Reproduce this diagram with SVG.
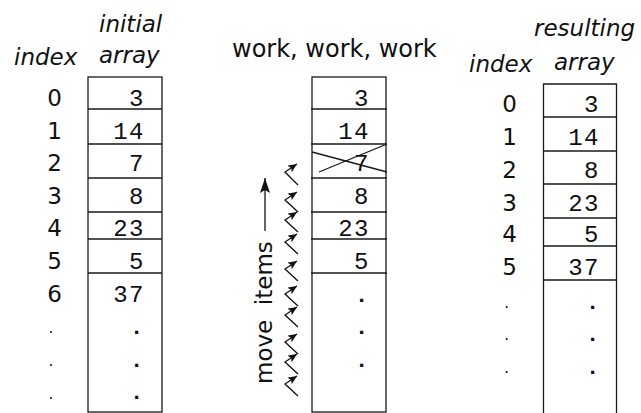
<svg xmlns="http://www.w3.org/2000/svg" width="641" height="413" viewBox="0 0 641 413">
  <style>
    .bg { fill: #ffffff; }
    .cell { fill: none; stroke: #1a1a1a; stroke-width: 1.3; }
    .lbl { font-family: "DejaVu Sans", sans-serif; font-size: 23px; font-style: italic; fill: #111; }
    .idx { font-family: "DejaVu Sans", sans-serif; font-size: 23px; fill: #111; text-anchor: middle; }
    .idot { font-family: "DejaVu Sans", sans-serif; font-size: 15px; fill: #111; text-anchor: middle; }
    .val { font-family: "Liberation Mono", monospace; font-size: 24px; letter-spacing: 1.5px; fill: #111; text-anchor: end; }
    .vdot { font-family: "Liberation Mono", monospace; font-size: 22px; font-weight: bold; fill: #111; text-anchor: middle; }
    .title { font-family: "DejaVu Sans", sans-serif; font-size: 24px; fill: #111; }
    .edge { fill: none; stroke: #111; stroke-width: 1.3; }
  </style>
  <defs>
    <marker id="head" markerUnits="userSpaceOnUse" markerWidth="12" markerHeight="10" refX="9" refY="4" orient="auto">
      <path d="M0,0 L9,4 L0,8 L2,4 Z" fill="#111"/>
    </marker>
    <marker id="bighead" markerUnits="userSpaceOnUse" markerWidth="18" markerHeight="12" refX="15" refY="5" orient="auto">
      <path d="M0,0 L15,5 L0,10 L3,5 Z" fill="#111"/>
    </marker>
  </defs>

  <rect class="bg" x="0" y="0" width="641" height="413"/>

  <!-- left column: index and initial array -->
  <g id="initial-array">
    <text class="lbl" x="14" y="65">index</text>
    <text class="lbl" x="99" y="32">initial</text>
    <text class="lbl" x="99" y="63">array</text>
    <rect class="cell" x="88" y="77" width="74" height="335"/>
    <path class="cell" d="M88,109 H162 M88,144 H162 M88,178 H162 M88,212 H162 M88,239 H162 M88,273 H162"/>
    <g>
      <text class="idx" x="54.5" y="106">0</text>
      <text class="idx" x="54.5" y="138.5">1</text>
      <text class="idx" x="54.5" y="171">2</text>
      <text class="idx" x="54.5" y="203.5">3</text>
      <text class="idx" x="54.5" y="236">4</text>
      <text class="idx" x="54.5" y="268.5">5</text>
      <text class="idx" x="54.5" y="301.5">6</text>
      <text class="idot" x="51" y="333">.</text>
      <text class="idot" x="51" y="366">.</text>
      <text class="idot" x="51" y="398.5">.</text>
    </g>
    <g>
      <text class="val" x="145" y="106">3</text>
      <text class="val" x="145" y="138.5">14</text>
      <text class="val" x="145" y="171">7</text>
      <text class="val" x="145" y="203.5">8</text>
      <text class="val" x="145" y="236">23</text>
      <text class="val" x="145" y="268.5">5</text>
      <text class="val" x="145" y="301.5">37</text>
      <text class="vdot" x="136.7" y="334">.</text>
      <text class="vdot" x="136.7" y="367">.</text>
      <text class="vdot" x="136.7" y="399">.</text>
    </g>
  </g>

  <!-- middle column: array while items are being shifted -->
  <g id="working-array">
    <text class="title" x="232" y="57">work, work, work</text>
    <rect class="cell" x="312" y="77" width="74" height="335"/>
    <path class="cell" d="M311,109 H387 M311,144 H387 M311,178 H387 M311,212 H387 M311,239 H387 M311,273 H387"/>
    <text class="val" x="370" y="106">3</text>
    <text class="val" x="370" y="138.5">14</text>
    <text class="val" x="370" y="171">7</text>
    <text class="val" x="370" y="203.5">8</text>
    <text class="val" x="370" y="236">23</text>
    <text class="val" x="370" y="268.5">5</text>
    <text class="vdot" x="361.7" y="302">.</text>
    <text class="vdot" x="361.7" y="334">.</text>
    <text class="vdot" x="361.7" y="367">.</text>
    <!-- removed item crossed out -->
    <path class="cell" d="M312,152 L387,172 M319,172 L387,144"/>
  </g>

  <!-- right column: index and resulting array -->
  <g id="resulting-array">
    <text class="lbl" x="469" y="72">index</text>
    <text class="lbl" x="534" y="36">resulting</text>
    <text class="lbl" x="554" y="70">array</text>
    <path class="cell" d="M543.5,413 V84 H616.5 V413"/>
    <path class="cell" d="M543.5,117 H616.5 M543.5,151 H616.5 M543.5,184 H616.5 M543.5,218 H616.5 M543.5,246 H616.5 M543.5,280 H616.5"/>
    <g>
      <text class="idx" x="509.5" y="111.7">0</text>
      <text class="idx" x="509.5" y="145">1</text>
      <text class="idx" x="509.5" y="178.3">2</text>
      <text class="idx" x="509.5" y="210.5">3</text>
      <text class="idx" x="509.5" y="241.7">4</text>
      <text class="idx" x="509.5" y="275">5</text>
      <text class="idot" x="506.7" y="308">.</text>
      <text class="idot" x="506.7" y="339.5">.</text>
      <text class="idot" x="506.7" y="373">.</text>
    </g>
    <g>
      <text class="val" x="600" y="111.7">3</text>
      <text class="val" x="600" y="145">14</text>
      <text class="val" x="600" y="178.3">8</text>
      <text class="val" x="600" y="211">23</text>
      <text class="val" x="600" y="241.7">5</text>
      <text class="val" x="600" y="275">37</text>
      <text class="vdot" x="592.7" y="309">.</text>
      <text class="vdot" x="592.7" y="340.5">.</text>
      <text class="vdot" x="592.7" y="374">.</text>
    </g>
  </g>

  <g id="move-label">
    <text class="title" xml:space="preserve" transform="translate(272,384) rotate(-90)" style="font-size:23px">move  items</text>
  </g>

  <!-- connectors: shift arrow and per-item zigzag moves -->
  <g id="connectors">
    <line class="edge" x1="265" y1="231" x2="265" y2="178" marker-end="url(#bighead)"/>
    <polyline class="edge" points="298,185 285,172 297,164" marker-end="url(#head)"/>
    <polyline class="edge" points="298,212 285,200 297,192" marker-end="url(#head)"/>
    <polyline class="edge" points="298,232 285,220 297,212" marker-end="url(#head)"/>
    <polyline class="edge" points="298,254 285,242 297,234" marker-end="url(#head)"/>
    <polyline class="edge" points="298,281 285,269 297,261" marker-end="url(#head)"/>
    <polyline class="edge" points="298,306 285,294 297,286" marker-end="url(#head)"/>
    <polyline class="edge" points="298,327 285,315 297,307" marker-end="url(#head)"/>
    <polyline class="edge" points="298,354 285,342 297,334" marker-end="url(#head)"/>
    <polyline class="edge" points="298,374 285,362 297,354" marker-end="url(#head)"/>
    <polyline class="edge" points="298,396 285,384 297,376" marker-end="url(#head)"/>
  </g>
</svg>
